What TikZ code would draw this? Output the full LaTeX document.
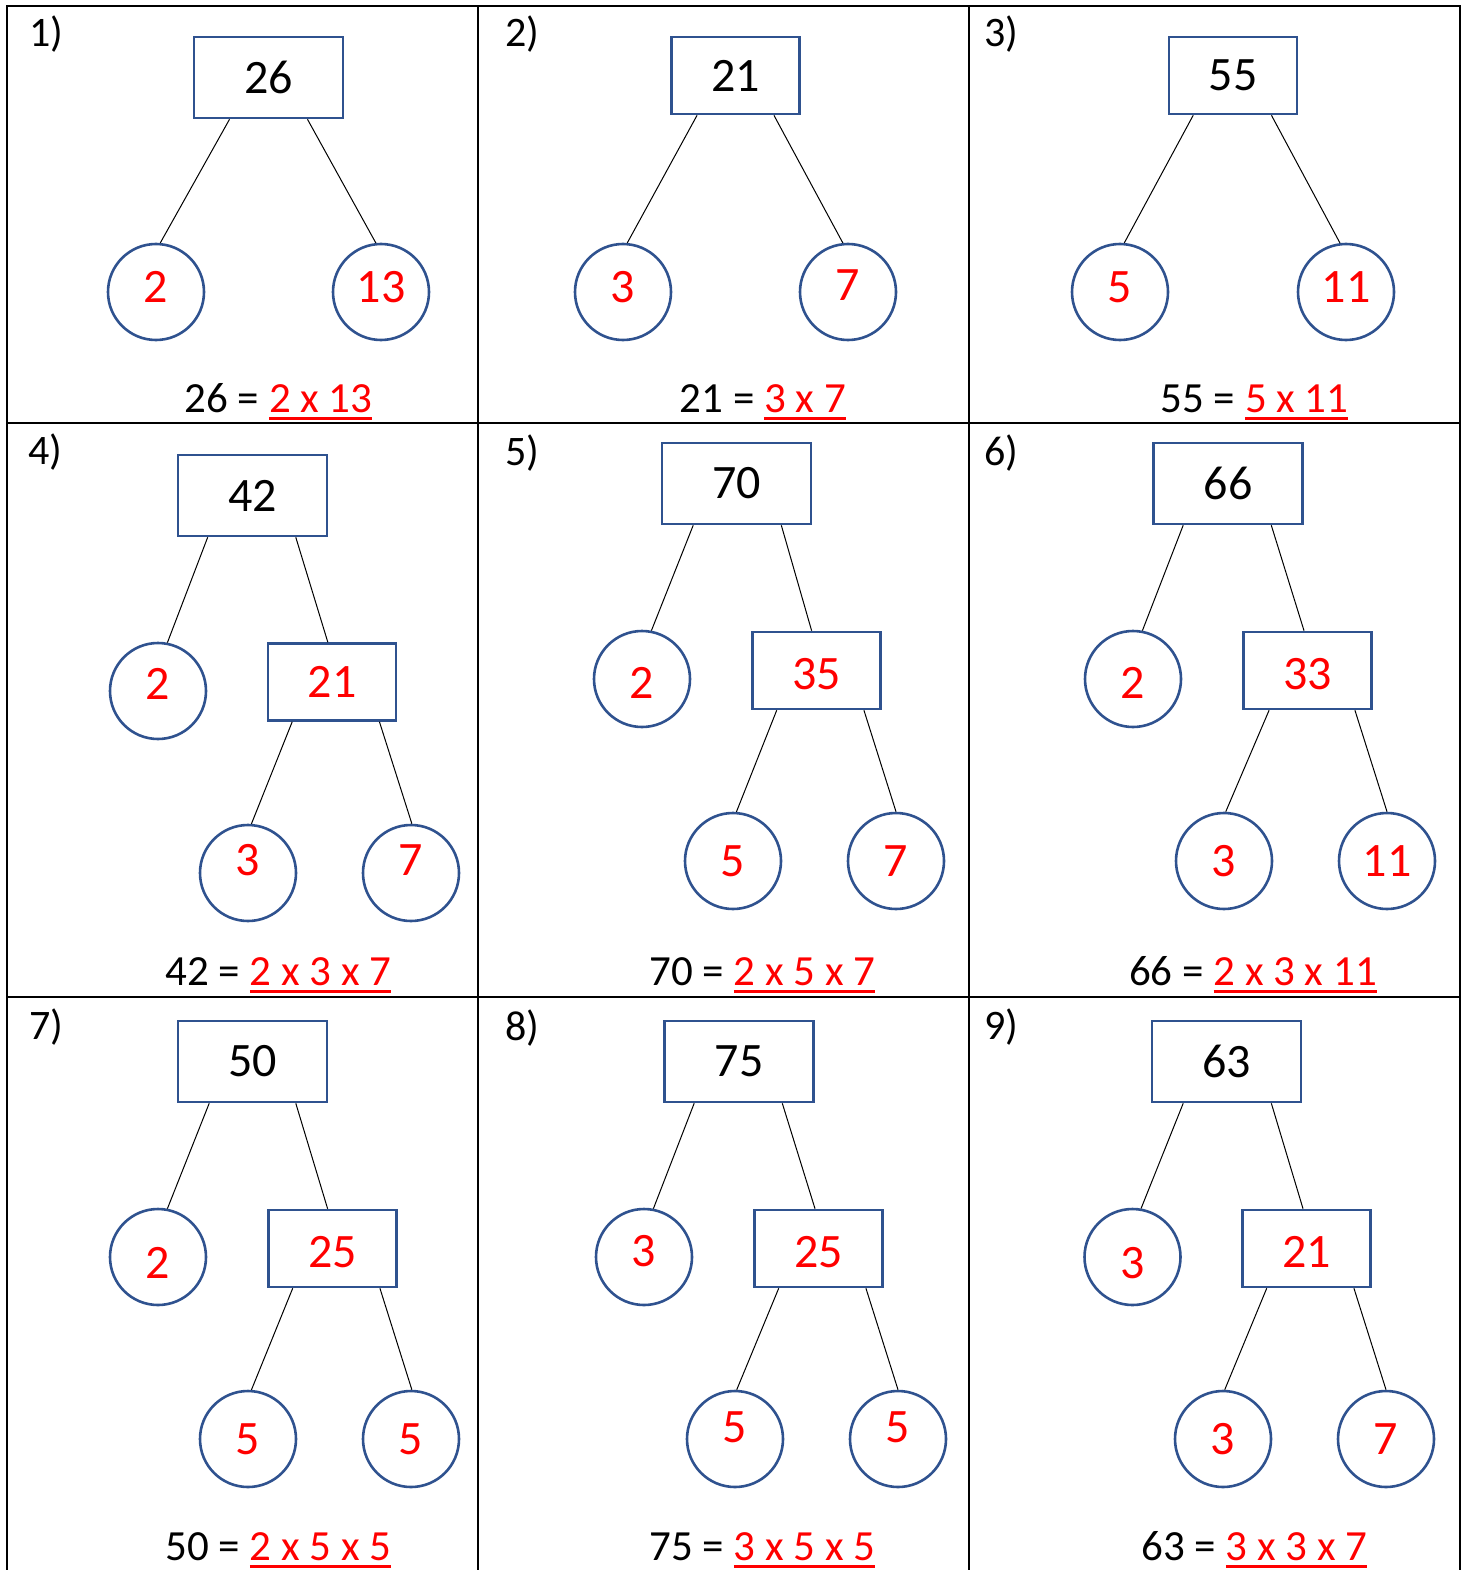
\documentclass[tikz,border=0pt]{standalone}
\usepackage{fontspec}
\setmainfont{Carlito}
\usepackage{xcolor}
\definecolor{shapeblue}{HTML}{2F528F}
\definecolor{factorred}{HTML}{FF0000}
\newsavebox{\answerbox}
\newcommand{\answer}[1]{{\color{factorred}\sbox{\answerbox}{#1}\rlap{\vrule width\wd\answerbox height -5pt depth 8pt}\usebox{\answerbox}}}

\begin{document}
\begin{tikzpicture}[
  x=1pt, y=-1pt,
  numbox/.style={draw=shapeblue, line width=2.6pt, minimum width=149pt, minimum height=81pt, inner sep=0pt, font=\fontsize{48}{58}\selectfont},
  smallbox/.style={numbox, minimum width=128pt, minimum height=77pt, text=factorred},
  factor/.style={circle, draw=shapeblue, line width=2.6pt, minimum size=96pt, inner sep=0pt, text=factorred, font=\fontsize{48}{58}\selectfont},
  link/.style={line width=1pt, draw=black},
  eqn/.style={anchor=base, inner sep=0pt, font=\fontsize{43}{52}\selectfont},
  qlabel/.style={anchor=base west, inner sep=0pt, font=\fontsize{42}{50}\selectfont},
  gridline/.style={line width=2pt}
]
\useasboundingbox (0,0) rectangle (1470,1570);

% table
\draw[gridline] (7,1570) -- (7,6) -- (1460,6) -- (1460,1570);
\draw[gridline] (478,6) -- (478,1570) (969,6) -- (969,1570) (7,423) -- (1460,423) (7,997) -- (1460,997);

% 1)
\node[qlabel] (n1) at (29,47) {1)};
\node[numbox] (t1) at (268.5,77.5) {26};
\node[factor, text depth=10pt] (a1) at (156,292) {2};
\node[factor, text depth=10pt] (b1) at (381,292) {13};
\node[eqn] (e1) at (278.5,412) {26 = \answer{2 x 13}};
\draw[link] (t1.227) -- (a1.85) (t1.313) -- (b1.96);

% 2)
\node[qlabel] (n2) at (505,47) {2)};
\node[numbox, minimum width=128pt, minimum height=77pt] (t2) at (735.5,75.5) {21};
\node[factor, text depth=10pt] (a2) at (623,292) {3};
\node[factor, text depth=14pt] (b2) at (848,292) {7};
\node[eqn] (e2) at (763,412) {21 = \answer{3 x 7}};
\draw[link] (t2.226) -- (a2.85) (t2.314) -- (b2.96);

% 3)
\node[qlabel] (n3) at (984,47) {3)};
\node[numbox, minimum width=128pt, minimum height=77pt] (t3) at (1233,75.5) {55};
\node[factor, text depth=10pt] (a3) at (1120,292) {5};
\node[factor, text depth=10pt] (b3) at (1346,292) {11};
\node[eqn] (e3) at (1254.5,412) {55 = \answer{5 x 11}};
\draw[link] (t3.225) -- (a3.85) (t3.314) -- (b3.97);

% 4)
\node[qlabel] (n4) at (28,464) {4)};
\node[numbox] (t4) at (252.5,495.5) {42};
\node[factor, text depth=14pt] (a4) at (158,691) {2};
\node[smallbox] (m4) at (332,682) {21};
\node[factor, text depth=26pt] (c4) at (248,873) {3};
\node[factor, text depth=26pt] (d4) at (411,873) {7};
\node[eqn] (e4) at (278.5,985) {42 = \answer{2 x 3 x 7}};
\draw[link] (t4.223) -- (a4.79) (t4.316) -- (m4.96) (m4.225) -- (c4.86) (m4.320) -- (d4.89);

% 5)
\node[qlabel] (n5) at (505,465) {5)};
\node[numbox] (t5) at (736.5,483.5) {70};
\node[factor, text height=39.5pt] (a5) at (642,679) {2};
\node[smallbox, text height=37.5pt] (m5) at (816.5,670.5) {35};
\node[factor] (c5) at (733,861) {5};
\node[factor] (d5) at (896,861) {7};
\node[eqn] (e5) at (762.5,985) {70 = \answer{2 x 5 x 7}};
\draw[link] (t5.224) -- (a5.79) (t5.317) -- (m5.97) (m5.225) -- (c5.86) (m5.320) -- (d5.90);

% 6)
\node[qlabel] (n6) at (984,465) {6)};
\node[numbox] (t6) at (1228,483.5) {66};
\node[factor, text height=39.5pt] (a6) at (1133,679) {2};
\node[smallbox, text height=37.5pt] (m6) at (1307.5,670.5) {33};
\node[factor] (c6) at (1224,861) {3};
\node[factor] (d6) at (1387,861) {11};
\node[eqn] (e6) at (1253,985) {66 = \answer{2 x 3 x 11}};
\draw[link] (t6.223) -- (a6.79) (t6.316) -- (m6.95) (m6.226) -- (c6.88) (m6.320) -- (d6.90);

% 7)
\node[qlabel] (n7) at (29,1039) {7)};
\node[numbox] (t7) at (252.5,1061.5) {50};
\node[factor, text height=42pt] (a7) at (158,1257) {2};
\node[smallbox, text height=38.5pt] (m7) at (332.5,1248.5) {25};
\node[factor] (c7) at (248,1439) {5};
\node[factor] (d7) at (411,1439) {5};
\node[eqn] (e7) at (278.5,1560) {50 = \answer{2 x 5 x 5}};
\draw[link] (t7.224) -- (a7.79) (t7.316) -- (m7.97) (m7.225) -- (c7.86) (m7.320) -- (d7.89);

% 8)
\node[qlabel] (n8) at (505,1040) {8)};
\node[numbox] (t8) at (739,1061.5) {75};
\node[factor, text depth=12pt] (a8) at (644,1257) {3};
\node[smallbox, text height=37.5pt] (m8) at (818.5,1248.5) {25};
\node[factor, text depth=24pt] (c8) at (735,1439) {5};
\node[factor, text depth=24pt] (d8) at (898,1439) {5};
\node[eqn] (e8) at (762.5,1560) {75 = \answer{3 x 5 x 5}};
\draw[link] (t8.223) -- (a8.79) (t8.316) -- (m8.95) (m8.225) -- (c8.88) (m8.320) -- (d8.90);

% 9)
\node[qlabel] (n9) at (984,1039) {9)};
\node[numbox] (t9) at (1226.5,1061.5) {63};
\node[factor, text height=42.5pt] (a9) at (1132.5,1257) {3};
\node[smallbox, text height=37.5pt] (m9) at (1306.5,1248.5) {21};
\node[factor] (c9) at (1223,1439) {3};
\node[factor] (d9) at (1386,1439) {7};
\node[eqn] (e9) at (1254.5,1560) {63 = \answer{3 x 3 x 7}};
\draw[link] (t9.224) -- (a9.80) (t9.317) -- (m9.95) (m9.225) -- (c9.88) (m9.320) -- (d9.90);
\end{tikzpicture}
\end{document}
